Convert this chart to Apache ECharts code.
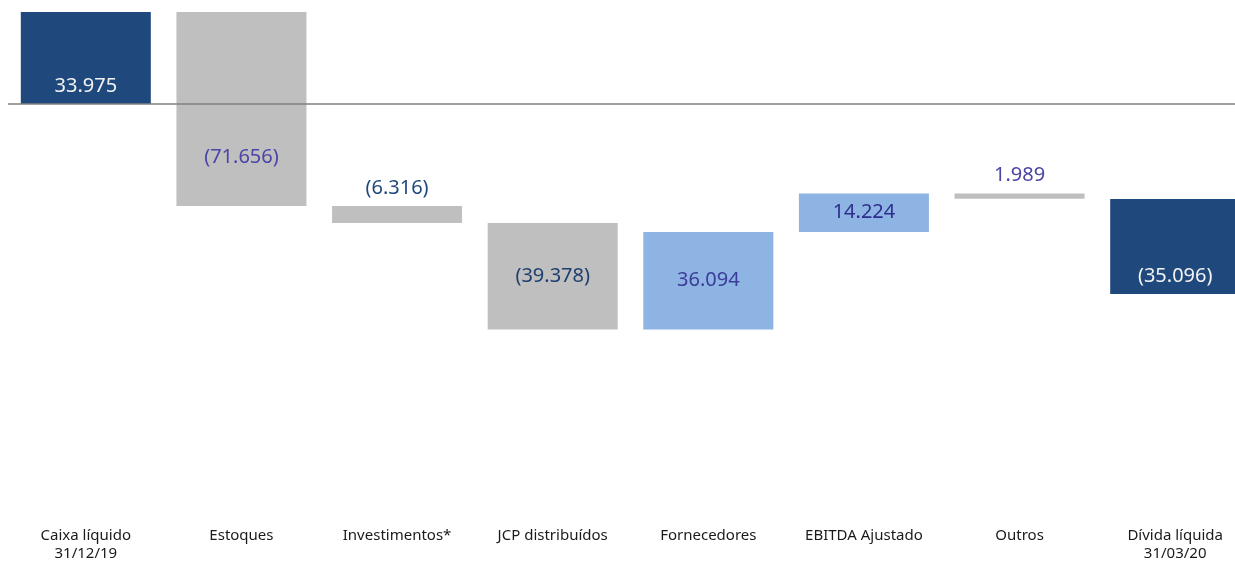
<!DOCTYPE html>
<html lang="pt">
<head>
    <meta charset="UTF-8">
    <title>Ponte de caixa</title>
    <script src="https://cdn.jsdelivr.net/npm/echarts@6/dist/echarts.min.js"></script>
    <style>
        html, body { margin: 0; padding: 0; background: #fff; }
        #main { width: 1235px; height: 564px; }
    </style>
</head>
<body>
<div id="main"></div>
<script>
    // dados (R$ mil)
    var categories = ['Caixa líquido\n31/12/19', 'Estoques', 'Investimentos*', 'JCP distribuídos',
        'Fornecedores', 'EBITDA Ajustado', 'Outros', 'Dívida líquida\n31/03/20'];
    var values = [33.975, -71.656, -6.316, -39.378, 36.094, 14.224, 1.989, -35.096];
    // no original o "Outros" aparece desenhado para baixo
    var drawSign = [1, 1, 1, 1, 1, 1, -1, 1];

    // estilo
    var dark = '#1F497D', gray = '#BFBFBF', light = '#8EB4E3';
    var barColors = [dark, gray, gray, gray, light, light, gray, dark];
    var labelColors = ['#F2F2F2', '#4B45A6', '#1F497D', '#1F3F6F', '#3B3B9A', '#2E2E8C', '#4B45A6', '#F2F2F2'];
    var labelPos = [
        {position: 'insideBottom', distance: 8},
        {position: 'inside', offset: [0, 48]},
        {position: 'top', distance: 8},
        {position: 'inside'},
        {position: 'inside'},
        {position: 'inside'},
        {position: 'top', distance: 8},
        {position: 'insideBottom', distance: 8}
    ];

    function fmt(v) {
        var s = Math.abs(v).toFixed(3);
        return v < 0 ? '(' + s + ')' : s;
    }

    var baseData = [], barData = [];
    var running = 0;
    for (var i = 0; i < values.length; i++) {
        var base, delta;
        if (i === 0) {
            base = 0; delta = values[i]; running = values[i];
        } else if (i === values.length - 1) {
            base = values[i]; delta = values[i];
        } else {
            base = running; delta = values[i] * drawSign[i]; running += delta;
        }
        baseData.push(base);
        barData.push({
            value: delta,
            itemStyle: {color: barColors[i]},
            label: Object.assign({
                show: true,
                formatter: fmt(values[i]),
                color: labelColors[i],
                fontSize: 20,
                fontFamily: 'Noto Sans'
            }, labelPos[i])
        });
    }

    var myChart = echarts.init(document.getElementById('main'));
    var option = {
        animation: false,
        grid: {left: 8, width: 1245, top: 1, height: 509, outerBoundsMode: 'none', containLabel: false},
        xAxis: {
            type: 'category',
            data: categories,
            axisLine: {show: false},
            axisTick: {show: false},
            axisLabel: {
                margin: 17,
                fontSize: 15,
                lineHeight: 18,
                color: '#1a1a1a',
                fontFamily: 'Noto Sans',
                interval: 0
            }
        },
        yAxis: {
            type: 'value',
            min: -150,
            max: 38,
            show: false,
            splitLine: {show: false}
        },
        series: [
            {
                type: 'bar',
                stack: 'ponte',
                stackStrategy: 'all',
                barWidth: 130,
                itemStyle: {color: 'transparent'},
                emphasis: {disabled: true},
                data: baseData
            },
            {
                type: 'bar',
                stack: 'ponte',
                stackStrategy: 'all',
                barWidth: 130,
                data: barData,
                markLine: {
                    silent: true,
                    symbol: 'none',
                    label: {show: false},
                    lineStyle: {color: '#808080', width: 1.5, type: 'solid'},
                    data: [{yAxis: 0}]
                }
            }
        ]
    };
    myChart.setOption(option);
</script>
</body>
</html>
